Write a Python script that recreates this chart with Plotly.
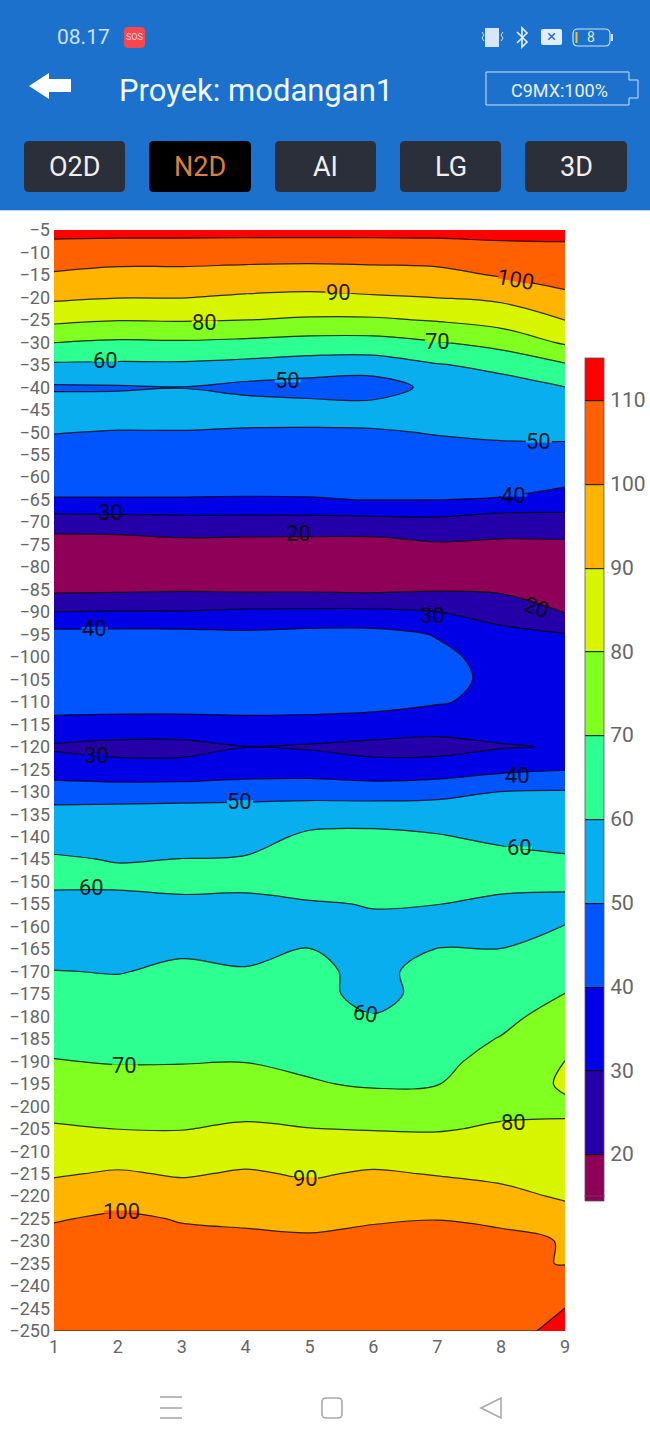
import plotly.graph_objects as go

W, H = 650, 1448

# Survey positions and depths of the resistivity section
positions = [1, 2, 3, 4, 5, 6, 7, 8, 9]
depths = [-5, -10, -15, -20, -25, -30, -35, -40, -45, -50,
          -55, -60, -65, -70, -75, -80, -85, -90, -95, -100,
          -105, -110, -115, -120, -125, -130, -135, -140, -145, -150,
          -155, -160, -165, -170, -175, -180, -185, -190, -195, -200,
          -205, -210, -215, -220, -225, -230, -235, -240, -245, -250]

# One list of readings per survey position, top to bottom
pos_1 = [113, 105.6, 99, 91.7, 82.2, 70.2, 58.7, 48.8, 55, 50.3,
         46.7, 43.2, 39.6, 24.4, 16, 15, 18, 30.1, 43, 44.5,
         45, 43, 38, 28.5, 36, 44.3, 54, 56.4, 61, 61.5,
         57.5, 55.5, 57, 60.2, 62.6, 65.3, 67.8, 70.3, 74, 77.3,
         80.9, 84.9, 89.1, 94, 99.3, 103, 104, 104, 105, 105]
pos_2 = [113, 104.7, 97.2, 90.3, 80.4, 68.6, 58.5, 49.2, 54, 49.6,
         46.3, 43.1, 39.6, 25, 16, 15, 18.5, 30.6, 43, 44.5,
         45, 43, 37.5, 26.5, 34, 44.5, 54.5, 56, 59.5, 62.4,
         56, 55, 56.5, 59.7, 62.1, 64.6, 67, 69.5, 72.8, 76.3,
         79.9, 85.3, 91, 96.2, 101.5, 103, 104, 105, 105, 105]
pos_3 = [113, 104.7, 97.2, 90.3, 80.8, 69, 58.5, 49.8, 54.5, 49.6,
         46.3, 43.1, 39.6, 25.7, 17.5, 15.5, 19, 30.5, 43, 44.5,
         45.5, 43, 37.5, 26.5, 34, 44.8, 55, 56.5, 60.1, 62,
         58.5, 56.5, 59.1, 61.2, 63.3, 65.5, 67.5, 69.6, 72.9, 76.2,
         79.7, 84.3, 89.1, 94.2, 99.5, 102, 103, 104, 104, 105]
pos_4 = [113, 104.3, 96.3, 88.8, 80.1, 68, 57.2, 47.5, 54.5, 48.9,
         45.8, 42.8, 39.5, 25.8, 17, 15.5, 18.5, 31.8, 41.8, 44.5,
         45.5, 43, 38, 29.8, 36, 45.2, 55.5, 57, 60.6, 62,
         58, 56, 58.2, 60.5, 62.8, 65.2, 67.5, 69.8, 73.5, 77.2,
         81.3, 86.2, 91, 94.9, 98.9, 101.5, 103, 104, 104, 105]
pos_5 = [113, 104, 95.9, 88, 78.8, 66.5, 55.5, 46, 54, 48.9,
         45.8, 42.9, 39.6, 25.6, 17, 15.5, 18.5, 32, 43, 45,
         46, 44, 36.9, 29, 36, 45.8, 56.5, 61.4, 65, 64,
         59.2, 57, 60.1, 61.7, 63.4, 65.2, 66.8, 68.5, 70.6, 75.3,
         80.2, 84.5, 89, 93.1, 97.4, 101.5, 103, 104, 104, 105]
pos_6 = [113, 104.3, 96.5, 89.1, 78.8, 66.5, 55, 45, 54, 49.2,
         46, 43, 40.2, 26.4, 16.5, 15, 18, 32, 43, 45,
         46, 43.5, 35.7, 27.5, 33, 46.3, 55.3, 62.6, 66, 65,
         60.4, 58.5, 58, 58, 56.5, 60.5, 63.5, 66.2, 69.1, 73.8,
         79.5, 85.4, 91.1, 95, 99.3, 102, 103.5, 104.5, 104.5, 105]
pos_7 = [113, 104.8, 97.3, 90.1, 80.8, 69.5, 59.5, 53, 55.5, 50.5,
         47, 43.5, 40.1, 27, 19, 15.5, 19.2, 30.1, 39.5, 42,
         42, 40.8, 34.2, 26.5, 34.7, 46.7, 56, 60.6, 65, 64.5,
         60.1, 57.5, 60.1, 62.8, 64, 65, 66.5, 68, 69.7, 74,
         79.3, 84.3, 89.5, 94.5, 99.8, 103, 104, 105, 105, 105]
pos_8 = [113, 106.7, 100.8, 92, 83.6, 74, 62, 57, 55.5, 51.5,
         47.5, 43.5, 39.5, 23.5, 18.8, 15.5, 18.5, 26.4, 32.5, 37,
         38.4, 37.5, 34, 29.3, 37.8, 50.1, 54.3, 58.3, 62.5, 62.5,
         58, 57, 60.1, 62.6, 65.2, 67.8, 70.4, 72.9, 75.5, 78,
         81, 84.4, 88.1, 92.3, 98.5, 102, 101.5, 104, 105, 103]
pos_9 = [112.5, 107.7, 103.2, 98.3, 90.1, 81.2, 69.1, 59.8, 55.8, 51.9,
         47.3, 42.4, 37, 24.8, 18.6, 15.5, 16.5, 19.6, 30.5, 33,
         34.5, 34.5, 33, 30.6, 39.5, 50.7, 54.2, 57.5, 60.8, 61,
         58.8, 60.1, 63.3, 66.8, 70.1, 73.5, 76.8, 80.1, 81, 78.9,
         80.9, 83.5, 86.3, 89, 93.5, 99.6, 99.7, 105, 110.1, 115.5]

columns = [pos_1, pos_2, pos_3, pos_4, pos_5, pos_6, pos_7, pos_8, pos_9]
z_rows = [list(row) for row in zip(*columns)]

# Fill colour of each 10-unit band, lowest band first
band_colors = ["#8f0058", "#2400a8", "#0000e6", "#0055ff", "#08aeee", "#2dff90",
               "#80ff20", "#d8f500", "#ffb400", "#ff6000", "#ff0000"]
band_scale = [[i / (len(band_colors) - 1), c] for i, c in enumerate(band_colors)]

# Contour labels: level, position along the section, depth, rotation
label_levels = [100, 90, 80, 70, 60, 50, 50, 40, 30, 20, 20, 30, 40, 30, 40, 50, 60, 60, 60, 70, 90, 80, 100]
label_x = [8.22, 5.45, 3.36, 7.01, 1.8, 4.66, 8.59, 8.2, 1.88, 4.82, 8.56, 6.92, 1.64,
           1.67, 8.25, 3.91, 8.28, 1.58, 5.88, 2.11, 4.93, 8.2, 2.05]
label_y = [-16.1, -18.8, -25.5, -29.7, -34, -38.6, -52, -64, -67.8, -72.5, -89, -90.7, -93.6,
           -121.9, -126.4, -132.2, -142.5, -151.3, -179.4, -191, -216.1, -203.7, -223.5]
label_angle = [10, 0, 0, 0, 0, 0, 0, 0, 0, 0, 20, 0, 0, 0, 0, 0, 0, 0, 10, 0, 0, 0, 0]

# Dark rule along the bottom edge, up to where the last red wedge begins
edge_x = [1, 8.56]
edge_y = [-250, -250]

TEXT_FONT = "Roboto, Arial, sans-serif"
BAR = "#1c71cd"
BTN = "#2a2f3a"


def px_x(v):
    return v / W


def px_y(v):
    return 1 - v / H


def rect(x0, y0, x1, y1, fill=None, line=None, width=1):
    return dict(type="rect", xref="paper", yref="paper", layer="above",
                x0=px_x(x0), x1=px_x(x1), y0=px_y(y0), y1=px_y(y1),
                fillcolor=fill if fill else "rgba(0,0,0,0)",
                line=dict(color=line if line else "rgba(0,0,0,0)", width=width if line else 0))


def poly(points, fill=None, line=None, width=1, closed=True):
    d = "M" + " L".join(f"{px_x(x):.5f},{px_y(y):.5f}" for x, y in points) + (" Z" if closed else "")
    return dict(type="path", xref="paper", yref="paper", layer="above", path=d,
                fillcolor=fill if fill else "rgba(0,0,0,0)",
                line=dict(color=line if line else "rgba(0,0,0,0)", width=width if line else 0))


def rounded(x0, y0, x1, y1, r, fill=None, line=None, width=1):
    # Rounded box as an svg path in paper coordinates
    a, b = r / W, r / H
    X0, X1, Y0, Y1 = px_x(x0), px_x(x1), px_y(y0), px_y(y1)
    d = (f"M{X0 + a:.5f},{Y0:.5f} L{X1 - a:.5f},{Y0:.5f} Q{X1:.5f},{Y0:.5f} {X1:.5f},{Y0 - b:.5f} "
         f"L{X1:.5f},{Y1 + b:.5f} Q{X1:.5f},{Y1:.5f} {X1 - a:.5f},{Y1:.5f} "
         f"L{X0 + a:.5f},{Y1:.5f} Q{X0:.5f},{Y1:.5f} {X0:.5f},{Y1 + b:.5f} "
         f"L{X0:.5f},{Y0 - b:.5f} Q{X0:.5f},{Y0:.5f} {X0 + a:.5f},{Y0:.5f} Z")
    return dict(type="path", xref="paper", yref="paper", layer="above", path=d,
                fillcolor=fill if fill else "rgba(0,0,0,0)",
                line=dict(color=line if line else "rgba(0,0,0,0)", width=width if line else 0))


def label(text, x, y, size, color, anchor="center"):
    return dict(text=text, x=px_x(x), y=px_y(y), xref="paper", yref="paper", showarrow=False,
                xanchor=anchor, yanchor="middle", font=dict(family=TEXT_FONT, size=size, color=color))


shapes = [rect(0, 0, W, 210, fill=BAR), rect(0, 210, W, 211, fill="#b5d6f2")]

# Status bar icons
shapes += [
    rounded(124, 27, 145, 48, 4, fill="#f4474f"),
    rect(485, 28, 499, 47, fill="#d8e6f7"),
    poly([(482, 32), (484, 35), (482, 38), (484, 41)], line="#d8e6f7", width=1, closed=False),
    poly([(503, 32), (501, 35), (503, 38), (501, 41)], line="#d8e6f7", width=1, closed=False),
    poly([(517, 32), (527, 42), (522, 47), (522, 28), (527, 33), (517, 43)], line="#e6f0fb", width=1.6, closed=False),
    rounded(541, 29, 562, 45, 2, fill="#e3edf9"),
    rounded(573, 29, 610, 46, 5, line="#cfe0f5", width=1.2),
    rect(575.5, 32, 577.5, 43, fill="#f4c430"),
    rect(611, 34, 613, 41, fill="#cfe0f5"),
]

# Back arrow and probe battery outline
shapes += [
    poly([(29, 86), (49, 73), (49, 79), (71, 79), (71, 92), (49, 92), (49, 99)], fill="#ffffff"),
    poly([(486, 72), (629, 72), (629, 80), (638, 80), (638, 98), (629, 98), (629, 105), (486, 105)],
         line="#cfe3f7", width=1),
]

# Tab buttons
button_edges = [(24, 125), (149, 251), (275, 376), (400, 501), (525, 627)]
button_names = ["O2D", "N2D", "AI", "LG", "3D"]
for i, (x0, x1) in enumerate(button_edges):
    shapes.append(rounded(x0, 141, x1, 192, 5, fill="#000000" if i == 1 else BTN))

# Navigation bar glyphs
NAV = "#a9a9a9"
for yy in (1397, 1408, 1418):
    shapes.append(poly([(160, yy), (182, yy)], line=NAV, width=1.6, closed=False))
shapes += [
    rounded(322, 1398, 342, 1418, 4, line=NAV, width=1.6),
    poly([(481, 1408), (501, 1398), (501, 1418)], line=NAV, width=1.6),
]

# Rule along the lower edge of the section
shapes.append(dict(type="line", xref="x", yref="y", layer="above",
                   x0=edge_x[0], x1=edge_x[1], y0=edge_y[0], y1=edge_y[1],
                   line=dict(color="rgba(70,40,30,0.8)", width=1.5)))

# The colour bar's lowest band runs a little past its last level
BAR_OUTLINE = "rgba(90,80,90,0.8)"
shapes += [
    rect(585, 1195, 604, 1201, fill=band_colors[0]),
    poly([(585, 1195), (585, 1201), (604, 1201), (604, 1195)], line=BAR_OUTLINE, width=1, closed=False),
]

annotations = [
    label("08.17", 55, 37, 21, "#cfe2f6", "left"),
    label("SOS", 134.5, 37.5, 9, "#ffd9dc"),
    label("×", 551.5, 36.5, 17, "#1c71cd"),
    label("8", 591, 37.5, 14, "#d8e6f7"),
    label("Proyek: modangan1", 117, 90, 31, "#f2f7fd", "left"),
    label("C9MX:100%", 559.5, 90, 18, "#e6f0fb"),
]
for i, ((x0, x1), name) in enumerate(zip(button_edges, button_names)):
    annotations.append(label(name, (x0 + x1) / 2, 167, 27, "#d9813c" if i == 1 else "#f0f0f0"))

# Contour labels sit on a short stroke in the band colour, which opens a gap in the line
UNITS_PER_PX_X = 8 / 511
UNITS_PER_PX_Y = 245 / 1101
for level, lx, ly, angle in zip(label_levels, label_x, label_y, label_angle):
    reach = 17 if level >= 100 else 13
    half = reach * UNITS_PER_PX_X
    rise = reach * angle / 57.3 * UNITS_PER_PX_Y
    shapes.append(dict(type="line", xref="x", yref="y", layer="above",
                       x0=lx - half, x1=lx + half, y0=ly + rise, y1=ly - rise,
                       line=dict(color=band_colors[(level - 20) // 10 + 1], width=3)))
    annotations.append(dict(text=str(level), x=lx, y=ly, xref="x", yref="y", showarrow=False,
                            textangle=angle, xanchor="center", yanchor="middle",
                            font=dict(family=TEXT_FONT, size=22, color="rgba(0,0,0,0.85)")))

fig = go.Figure()
fig.add_trace(go.Contour(
    x=positions,
    y=depths,
    z=z_rows,
    autocontour=False,
    zauto=False,
    zmin=15,
    zmax=115,
    colorscale=band_scale,
    contours=dict(start=20, end=110, size=10, coloring="fill"),
    line=dict(color="rgba(0,0,0,0.8)", width=1.2, smoothing=1),
    hoverinfo="skip",
    colorbar=dict(
        x=585 / W, xanchor="left", xref="paper",
        y=px_y(1196), yanchor="bottom", yref="paper",
        len=838, lenmode="pixels",
        thickness=19, thicknessmode="pixels",
        xpad=0, ypad=0,
        outlinewidth=1, outlinecolor=BAR_OUTLINE,
        ticks="outside", ticklen=2, tickcolor="rgba(0,0,0,0)", tick0=20, dtick=10,
        tickfont=dict(family=TEXT_FONT, size=21, color="#666666"),
    ),
))

fig.update_layout(
    width=W,
    height=H,
    margin=dict(l=0, r=0, t=0, b=0, autoexpand=False),
    paper_bgcolor="#ffffff",
    plot_bgcolor="#ffffff",
    showlegend=False,
    shapes=shapes,
    annotations=annotations,
    xaxis=dict(domain=[54 / W, 565 / W], range=[1, 9], tick0=1, dtick=1, ticks="", showgrid=False,
               zeroline=False, showline=False, ticklabelstandoff=3,
               tickfont=dict(family=TEXT_FONT, size=18, color="#666666")),
    yaxis=dict(domain=[px_y(1331), px_y(230)], range=[-250, -5], tick0=-5, dtick=5, ticks="", showgrid=False,
               zeroline=False, showline=False, ticklabelstandoff=3,
               tickfont=dict(family=TEXT_FONT, size=18, color="#666666")),
)

fig.write_html("out.html", config=dict(displayModeBar=False))
